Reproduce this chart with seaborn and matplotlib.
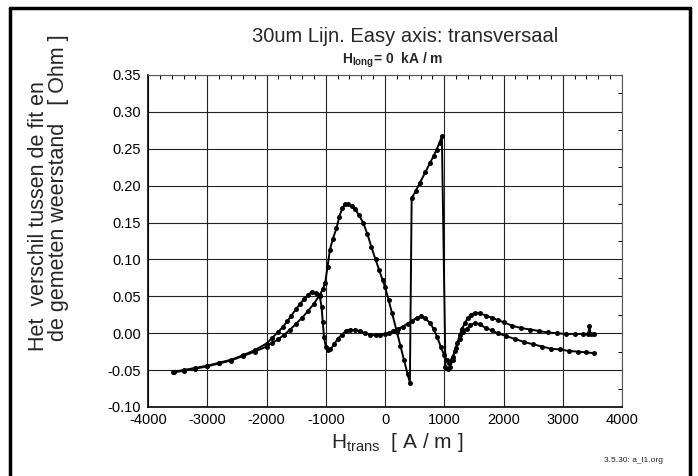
import numpy as np
import pandas as pd
import matplotlib
matplotlib.use("Agg")
import matplotlib.pyplot as plt
from matplotlib.lines import Line2D
from matplotlib.ticker import MultipleLocator, FormatStrFormatter
import seaborn as sns

# ---- data ----
h_up = [-3580, -3400, -3200, -3000, -2800, -2600, -2400, -2200, -2000, -1900, -1800,
        -1700, -1600, -1500, -1400, -1300, -1200, -1100, -1050, -1010, -970, -930,
        -880, -820, -770, -720, -670, -620, -560, -500, -440, -370, -300, -230, -160,
        -100, -40, 0, 60, 120, 200, 260, 320, 380, 420,
        450, 520, 590, 680, 760, 820, 870, 920, 960,
        1020, 1060, 1100, 1140, 1180, 1220, 1260, 1300, 1350, 1400, 1450, 1520, 1600,
        1700, 1800, 1900, 2000, 2150, 2300, 2450, 2600, 2750, 2900, 3050, 3200, 3350,
        3430, 3450, 3470, 3520]
r_up = [-0.053, -0.051, -0.048, -0.045, -0.041, -0.037, -0.031, -0.025, -0.018, -0.013, -0.008,
        -0.002, 0.005, 0.013, 0.021, 0.030, 0.040, 0.052, 0.060, 0.068, 0.090, 0.113,
        0.128, 0.142, 0.158, 0.170, 0.175, 0.175, 0.172, 0.168, 0.160, 0.150, 0.135, 0.117, 0.100,
        0.086, 0.072, 0.063, 0.045, 0.027, 0.002, -0.017, -0.036, -0.055, -0.067,
        0.183, 0.193, 0.204, 0.218, 0.231, 0.240, 0.249, 0.258, 0.267,
        -0.046, -0.048, -0.046, -0.036, -0.024, -0.013, -0.003, 0.006, 0.014, 0.021, 0.025, 0.028, 0.027,
        0.024, 0.021, 0.018, 0.015, 0.010, 0.007, 0.005, 0.003, 0.001, 0.000, -0.001, -0.001, -0.001,
        -0.001, 0.010, -0.001, -0.001]

h_down = [3520, 3400, 3250, 3100, 2950, 2800, 2650, 2500, 2350, 2200, 2050, 1900, 1800,
          1700, 1600, 1520, 1440, 1380, 1320, 1260, 1200, 1140, 1080, 1040, 1000, 940,
          880, 820, 760, 680, 600, 540, 460, 380, 300, 220, 140, 60, 0, -80, -160, -250,
          -340, -420, -500, -590, -660, -730, -800, -860, -920, -960, -1000, -1030, -1050,
          -1070, -1100, -1170, -1240, -1300, -1370, -1430, -1500, -1580, -1650, -1720,
          -1800, -1900, -2000, -2200, -2400, -2600, -2800, -3000, -3200, -3400, -3560]
r_down = [-0.027, -0.026, -0.025, -0.024, -0.022, -0.021, -0.018, -0.015, -0.012, -0.008, -0.004, 0.000, 0.004,
          0.007, 0.012, 0.014, 0.011, 0.006, 0.002, -0.008, -0.020, -0.032, -0.040, -0.036, -0.030, -0.018,
          -0.005, 0.006, 0.014, 0.020, 0.023, 0.021, 0.017, 0.013, 0.009, 0.006, 0.003, 0.000, -0.001, -0.002, -0.003, -0.002,
          0.000, 0.003, 0.004, 0.005, 0.003, -0.002, -0.008, -0.015, -0.022, -0.023, -0.018, -0.005, 0.015,
          0.035, 0.050, 0.054, 0.056, 0.052, 0.046, 0.040, 0.033, 0.024, 0.016, 0.009,
          0.002, -0.006, -0.014, -0.023, -0.030, -0.036, -0.040, -0.044, -0.047, -0.050, -0.052]

x_ticks = [-4000, -3000, -2000, -1000, 0, 1000, 2000, 3000, 4000]
y_ticks = [-0.10, -0.05, 0.00, 0.05, 0.10, 0.15, 0.20, 0.25, 0.30, 0.35]

df = pd.concat([
    pd.DataFrame({"H": h_up, "dR": r_up, "sweep": "up", "i": range(len(h_up))}),
    pd.DataFrame({"H": h_down, "dR": r_down, "sweep": "down", "i": range(len(h_down))}),
], ignore_index=True)

sns.set_theme(style="white")
plt.rcParams["font.family"] = ["Liberation Sans", "DejaVu Sans"]
plt.rcParams["axes.unicode_minus"] = False
plt.rcParams["mathtext.fontset"] = "custom"
plt.rcParams["mathtext.rm"] = "Liberation Sans"
plt.rcParams["mathtext.bf"] = "Liberation Sans:bold"
plt.rcParams["mathtext.it"] = "Liberation Sans"

fig = plt.figure(figsize=(6.98, 4.76), dpi=100)
ax = fig.add_axes([148 / 698, 1 - 407 / 476, (622 - 148) / 698, (407 - 75) / 476])

sns.lineplot(data=df, x="H", y="dR", hue="sweep", palette=["black", "black"],
             sort=False, estimator=None, units="sweep", marker="o", markersize=3.6,
             markeredgewidth=0, linewidth=1.4, legend=False, ax=ax)

ax.set_xlim(-4000, 4000)
ax.set_ylim(-0.10, 0.35)
ax.set_xticks(x_ticks)
ax.set_yticks(y_ticks)
ax.xaxis.set_minor_locator(MultipleLocator(200))
ax.yaxis.set_minor_locator(MultipleLocator(0.025))
ax.yaxis.set_major_formatter(FormatStrFormatter("%.2f"))
ax.grid(True, which="major", color="#222222", linewidth=0.8)
ax.tick_params(which="both", direction="in", top=True, right=True, colors="black",
               labelsize=10.5)
ax.tick_params(axis="x", which="major", length=0, pad=4)
ax.tick_params(axis="y", which="major", length=0, pad=5)
ax.tick_params(which="minor", length=3, width=0.7)
for s in ["left", "bottom"]:
    ax.spines[s].set_color("black")
    ax.spines[s].set_linewidth(1.2)
for s in ["top", "right"]:
    ax.spines[s].set_color("#555555")
    ax.spines[s].set_linewidth(0.8)

ax.set_xlabel("")
ax.set_ylabel("")
fig.text(397 / 698, 1 - 442 / 476, r"H$_{\rm trans}$  [ A / m ]", ha="center", va="center",
         fontsize=15)
fig.text(39 / 698, 1 - 216 / 476, "Het  verschil tussen de fit en", rotation=90,
         ha="center", va="center", fontsize=15.5)
fig.text(59 / 698, 1 - 188 / 476, "de gemeten weerstand   [ Ohm ]", rotation=90,
         ha="center", va="center", fontsize=15.5)
fig.text(405 / 698, 1 - 37 / 476, "30um Lijn. Easy axis: transversaal", ha="center",
         va="center", fontsize=14.5)
fig.text(393 / 698, 1 - 60 / 476, r"$\mathbf{H_{long}}$= 0  kA / m", ha="center",
         va="center", fontsize=10, fontweight="bold")
fig.text(633 / 698, 1 - 460 / 476, "3.5.30: a_l1.org", ha="center", va="center",
         fontsize=6)

# frame around the figure
lw = 2.5
fig.add_artist(Line2D([10 / 698, 10 / 698], [0, 1 - 8 / 476], color="black", lw=lw,
                      transform=fig.transFigure))
fig.add_artist(Line2D([690 / 698, 690 / 698], [0, 1 - 8 / 476], color="black", lw=lw,
                      transform=fig.transFigure))
fig.add_artist(Line2D([10 / 698, 690 / 698], [1 - 8 / 476, 1 - 8 / 476], color="black", lw=lw,
                      transform=fig.transFigure))

fig.savefig("out.png", dpi=100, facecolor="white")
